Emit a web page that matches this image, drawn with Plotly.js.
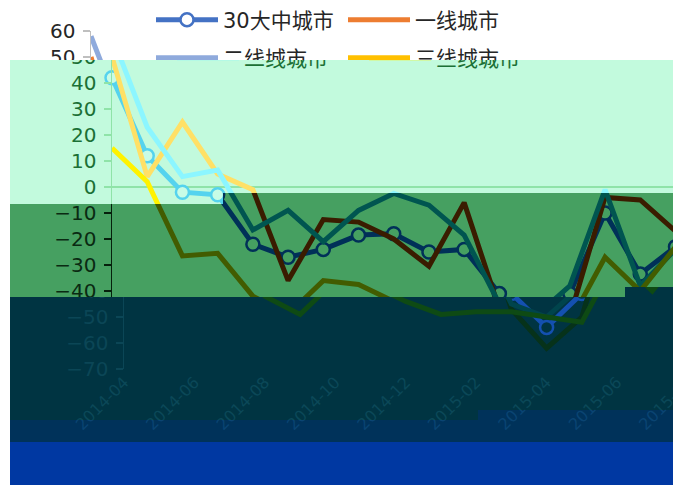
<!DOCTYPE html>
<html><head><meta charset="utf-8">
<script src="https://cdn.plot.ly/plotly-3.0.1.min.js"></script>
<style>
html,body{margin:0;padding:0;background:#fff;overflow:hidden}
#root{position:relative;width:679px;height:485px;overflow:hidden;background:#fff}
.band{position:absolute;left:0;top:0;width:679px;height:485px;overflow:hidden}
.inner{position:absolute;top:0;width:679px;height:485px}
</style></head><body><div id="root"></div>
<script>
// ---- data ----
const categories = ['2014-04','2014-05','2014-06','2014-07','2014-08','2014-09','2014-10','2014-11','2014-12','2015-01','2015-02','2015-03','2015-04','2015-05','2015-06','2015-07','2015-08'];
const tickLabels = ['2014-04','2014-06','2014-08','2014-10','2014-12','2015-02','2015-04','2015-06','2015-08'];
const seriesNames = ['30大中城市','一线城市','二线城市','三线城市'];
const city30 = [42, 12, -2, -3, -22, -27, -24, -18.5, -18, -25, -24, -41, -54, -41, -10, -33.5, -23];
const tier1  = [50, 4, 25, 5, -1, -36, -12.5, -13.5, -20, -30.5, -6, -47, -62, -50, -4, -5, -17];
const tier2  = [58, 23, 4, 6.5, -16.5, -9, -21, -9, -2.5, -7, -18.5, -45, -50, -38, -1, -38, -24];
const tier3  = [15, 2, -26.5, -25.5, -42, -49, -36, -37.5, -44, -49, -48, -48, -50, -52, -27, -40, -23];
const yTicks = [-70,-60,-50,-40,-30,-20,-10,0,10,20,30,40,50,60];

const FONT = 'DejaVu Sans, Noto Sans CJK SC, sans-serif';

// ---- band looks ----
const bands = [
  {shift:-21, clip:null,
   p:{bg:'#ffffff', text:'#262626', axis:'#bfbfbf', zero:'#d0d0d0', xt:'#595959', c:['#4472C4','#ED7D31','#8FAADC','#FFC000'], mf:'#ffffff'}},
  {shift:0, clip:'polygon(10px 60px,673px 60px,673px 193px,223px 193px,223px 204px,10px 204px)',
   p:{bg:'#C2FADD', text:'#1B7035', axis:'#8FE3A8', zero:'#8FE3A8', xt:'#1B7035', c:['#55D3EE','#FFE066','#8CF6FF','#FFF200'], mf:'#C8FCE6'}},
  {shift:0, clip:'polygon(10px 204px,223px 204px,223px 193px,673px 193px,673px 287px,625px 287px,625px 297px,10px 297px)',
   p:{bg:'#46A061', text:'#0A2A12', axis:'#06200C', zero:'#06200C', xt:'#0A2A12', c:['#003058','#3A1C00','#005550','#425C00'], mf:'#46A061'}},
  {shift:12, clip:'polygon(10px 297px,625px 297px,625px 287px,673px 287px,673px 410px,478px 410px,478px 420px,10px 420px)',
   p:{bg:'#003442', text:'#0B4656', axis:'#0B4656', zero:'#0B4656', xt:'#0B4858', c:['#1450B0','#06321A','#00444C','#0E4A14'], mf:'#003442'}},
  {shift:12, clip:'polygon(10px 420px,478px 420px,478px 410px,673px 410px,673px 442px,10px 442px)',
   p:{bg:'#00325A', text:'#0A426E', axis:'#0A426E', zero:'#0A426E', xt:'#0A4472', c:['#1450B0','#06321A','#00444C','#0E4A14'], mf:'#00325A'}},
  {shift:12, clip:'polygon(10px 442px,673px 442px,673px 485px,10px 485px)',
   p:{bg:'#0038A2', text:'#1046B4', axis:'#1046B4', zero:'#1046B4', xt:'#1048B6', c:['#1450B0','#06321A','#00444C','#0E4A14'], mf:'#0038A2'}}
];

function traces(p){
  const ys = [city30, tier1, tier2, tier3];
  return ys.map((y,i)=>{
    const t = {
      type:'scatter', mode: i===0 ? 'lines+markers' : 'lines',
      x: categories, y: y, name: seriesNames[i],
      legend: i<2 ? 'legend' : 'legend2',
      line:{color:p.c[i], width:5},
      cliponaxis:false, hoverinfo:'skip'
    };
    if(i===0){ t.marker = {symbol:'circle', size:13, color:p.mf, line:{color:p.c[i], width:2.5}}; }
    return t;
  });
}

function layout(p){
  const leg = (yy)=>({orientation:'h', xref:'container', yref:'container', x:172/679, y:1-yy/485,
    xanchor:'left', yanchor:'middle', entrywidth:115, entrywidthmode:'pixels', itemwidth:62,
    font:{family:FONT, size:21, color:p.text}, bgcolor:'rgba(0,0,0,0)', borderwidth:0, traceorder:'normal'});
  return {
    width:679, height:485,
    margin:{l:112, r:0, t:31, b:116, pad:0, autoexpand:false},
    paper_bgcolor:p.bg, plot_bgcolor:p.bg,
    font:{family:FONT, size:20, color:p.text},
    showlegend:true,
    legend: leg(20),
    legend2: leg(58),
    xaxis:{type:'category', range:[0,16.1], tickmode:'array', tickvals:tickLabels, ticktext:tickLabels,
      tickangle:-45, showgrid:false, showline:false, zeroline:false, ticks:'',
      tickfont:{family:FONT, size:16, color:p.xt}, automargin:false, fixedrange:true},
    yaxis:{range:[-70,60], tickmode:'array', tickvals:yTicks, showgrid:false,
      zeroline:true, zerolinecolor:p.zero, zerolinewidth:1.5,
      showline:true, linecolor:p.axis, linewidth:1.5, ticks:'outside', ticklen:7, tickcolor:p.axis, tickwidth:1.5,
      ticklabelstandoff:3,
      tickfont:{family:FONT, size:20, color:p.text}, automargin:false, fixedrange:true}
  };
}

const root = document.getElementById('root');
bands.forEach((b,i)=>{
  const outer = document.createElement('div');
  outer.className='band';
  outer.style.background = b.p.bg;
  if(b.clip){ outer.style.clipPath = b.clip; }
  const inner = document.createElement('div');
  inner.className='inner';
  inner.style.left = b.shift+'px';
  outer.appendChild(inner);
  root.appendChild(outer);
  Plotly.newPlot(inner, traces(b.p), layout(b.p), {staticPlot:true, displayModeBar:false});
});
</script></body></html>
